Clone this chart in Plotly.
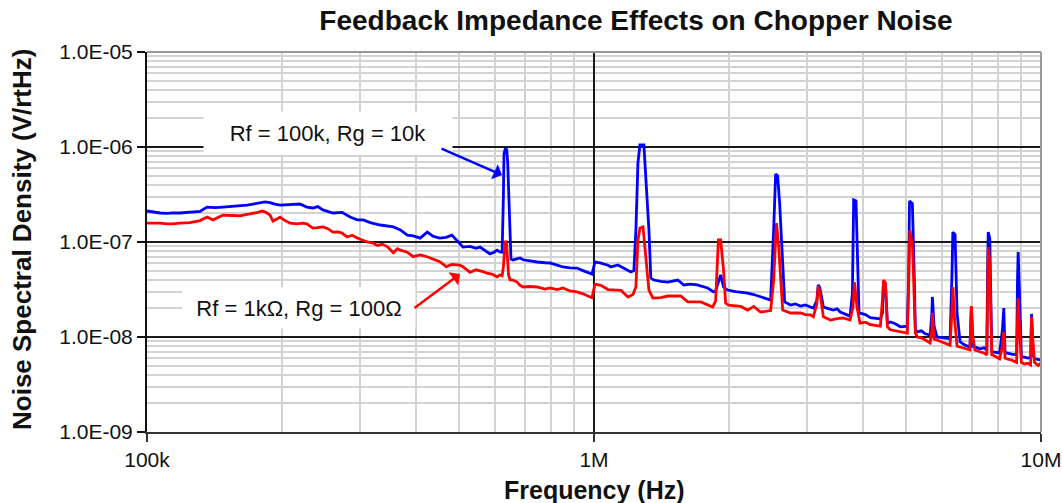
import plotly.graph_objects as go

# ---------------- data (frequency in kHz, noise in nV/rtHz) ----------------
blue_khz = [
    100, 104.2, 106.9, 110.9, 114.3, 118.5, 124.8, 131.4, 136.2, 142,
    147.9, 155, 161.5, 167.4, 172.7, 178, 183.7, 188.5, 193.3, 198.4,
    209, 219.8, 227.8, 234.9, 241.1, 247.4, 260.6, 273.1, 284.7, 295.3,
    304.6, 315.8, 332.7, 345, 355.8, 368.8, 382.3, 394.2, 408.5, 423.6,
    436.3, 451.6, 467, 481, 496, 509, 528, 544.5, 556, 570,
    585, 598, 607, 616,
    623, 627, 629, 633, 638, 641, 645, 649, 652,
    659, 673, 683, 694, 719, 746, 777, 797, 827, 852,
    884, 916, 945, 980, 990,
    1005, 1036, 1075, 1091, 1131, 1167, 1209, 1228,
    1241, 1254, 1267, 1293, 1306, 1327, 1340,
    1361, 1411, 1462, 1540, 1588, 1646, 1701, 1796, 1852, 1871,
    1898, 1920, 1949, 1991,
    2073, 2207, 2276, 2358, 2420, 2484,
    2523, 2549, 2575, 2602, 2643, 2670,
    2753, 2820, 2899, 2970, 3049, 3095, 3150,
    3175, 3200, 3260,
    3330, 3433, 3500, 3555, 3683, 3740, 3785,
    3810, 3856, 3876, 3916,
    4050, 4150, 4372, 4420,
    4445, 4487, 4533,
    4603, 4720, 4846, 5024, 5055,
    5080, 5155, 5208, 5235,
    5289, 5400, 5508, 5650, 5700,
    5715, 5766, 5855,
    6100, 6260, 6325,
    6350, 6423, 6490, 6590,
    6760, 6935, 6985, 7043, 7115, 7300, 7450, 7565, 7595,
    7620, 7680, 7760,
    7800, 8080, 8200,
    8255, 8310,
    8370, 8600, 8820, 8860,
    8890, 8950, 9040,
    9180, 9350, 9480, 9525, 9600, 9670, 9850, 10000,
]
blue_nv = [
    212, 205, 202, 200, 203, 202, 205, 210, 233, 230,
    233, 236, 238, 244, 251, 257, 264, 260, 250, 245,
    248, 251, 233, 228, 236, 218, 202, 205, 183, 171,
    171, 160, 151, 148, 144, 134, 118, 116, 110, 127,
    115, 110, 112, 118, 100, 88.5, 90, 86, 88.5, 82,
    75, 78, 82, 78.5,
    78, 300, 850, 950, 940, 700, 250, 90, 66,
    64.7, 66, 67.9, 65, 63, 61.6, 60.5, 60.1, 57, 54.6,
    53.5, 53.2, 50, 47.2, 46,
    61.6, 60, 57, 54.6, 57.3, 53, 48.3, 50,
    134, 679, 1050, 1050, 450, 134, 41.8,
    39.8, 38.5, 37.9, 39.8, 35.3, 36, 35.3, 32.8, 29.8, 30.5,
    38, 45, 33.6, 31.2,
    30, 29, 28, 26.4, 25.5, 24.5,
    134, 520, 500, 257, 60, 23.4,
    21.7, 22.3, 21.2, 21.8, 20.7, 20.2, 24,
    35.3, 33, 20.7,
    20, 19.2, 19.8, 18.3, 17.1, 16.5, 29,
    277, 270, 88.5, 17.9,
    17.2, 16, 15.5, 18,
    38, 36, 14,
    14.4, 13.8, 12.8, 13, 40,
    270, 255, 39.8, 11.9,
    11.3, 11.6, 10.8, 10.5, 18,
    26.4, 13, 10,
    9.75, 9.6, 50,
    127, 120, 17.9, 8.9,
    8.2, 7.85, 20, 8, 7.85, 7.5, 7.7, 7.3, 50,
    127, 110, 7.2,
    6.95, 6.8, 12,
    20.2, 7,
    6.8, 6.6, 6.47, 40,
    78.5, 30, 6.15,
    6.15, 6.0, 6.1, 17.5, 6.5, 5.9, 5.8, 5.7,
]

red_khz = [
    100, 106.9, 110.9, 114.3, 118.5, 124.8, 131.4, 136.2, 140.5, 147.9,
    155, 161.5, 167.4, 172.7, 177.1, 180.9, 184.6, 188.5, 191.3, 195.3,
    198.4, 203.6, 209, 216.4, 223.2, 227.8, 234.9, 241.1, 247.4, 253.9,
    260.6, 267.5, 273.1, 280.3, 287.7, 295.3, 303, 311, 319.2, 327.6,
    336.2, 345, 355.8, 363.2, 368.8, 382.3, 394.2, 408.5, 423.6, 436.3,
    451.6, 467, 481, 501, 509, 528, 544.5, 562, 576, 591,
    607, 616, 623,
    627, 630, 633, 637, 640, 644, 649, 659, 673,
    683, 694, 719, 746, 777, 797, 827, 852, 884, 916,
    945, 980, 990,
    1005, 1036, 1075, 1108, 1149, 1191, 1222,
    1241, 1254, 1267, 1287, 1306, 1327, 1354,
    1411, 1462, 1563, 1621, 1733, 1843, 1871,
    1898, 1920, 1949, 1970,
    2000, 2129, 2207, 2276, 2358, 2484,
    2523, 2560, 2590, 2643,
    2753, 2899, 2970, 3049, 3095, 3150,
    3175, 3200, 3260,
    3380, 3500, 3610, 3740, 3797,
    3825, 3876, 3936,
    4050, 4150, 4372, 4420,
    4445, 4487, 4533,
    4603, 4720, 4846, 5024, 5060,
    5090, 5160, 5235,
    5289, 5400, 5508, 5650, 5700,
    5715, 5766, 5855,
    6100, 6260, 6325,
    6350, 6410, 6490,
    6590, 6760, 6935, 6970,
    6985, 7040, 7115,
    7300, 7450, 7565, 7595,
    7620, 7680, 7760,
    7800, 8080, 8200,
    8255, 8310,
    8370, 8600, 8820, 8860,
    8890, 8950, 9040,
    9180, 9350, 9480, 9525, 9580, 9670, 9850, 10000,
]
red_nv = [
    158, 158, 155, 155, 158, 160, 168, 183, 171, 192,
    190, 188, 195, 200, 205, 212, 205, 192, 166, 175,
    183, 168, 158, 155, 158, 155, 140, 142, 144, 138,
    127, 128, 124, 113, 118, 110, 104, 100, 98, 92,
    95, 89, 77, 85, 82, 78, 70, 73, 70, 66,
    62, 55, 58, 57, 55, 48, 51, 49, 47, 46,
    43, 45, 44,
    55, 85, 100, 100, 70, 45, 40, 39.8, 37.9,
    35, 33.6, 34, 33.6, 32, 32.8, 31.5, 32.8, 30.5, 29.8,
    28.5, 26.4, 26,
    36.1, 35, 31.6, 31.2, 31, 26.4, 28,
    33.6, 105, 140, 144, 69.5, 31.2, 25.7,
    26, 27, 27, 23.4, 23.4, 20.7, 24,
    105, 105, 50.7, 22.8,
    21.7, 21, 19.2, 21, 18.3, 19,
    40, 158, 88.5, 19.2,
    17.9, 17.9, 17.2, 17.1, 16.3, 22,
    34.4, 30, 16.3,
    15.1, 15.6, 15.85, 15.1, 20.7,
    37.9, 20.7, 14,
    14.3, 13.5, 13, 25,
    39.8, 37, 12.8,
    11.9, 11.6, 11.3, 11, 40,
    134, 88, 11,
    10, 9.8, 9.3, 8.65, 12,
    17.9, 9.5, 9.3,
    8.6, 8.2, 20,
    33.6, 15, 8,
    7.85, 7.6, 7.3, 15,
    21.2, 10, 7.3,
    7, 6.8, 6.47, 30,
    88.5, 60, 6.5,
    6.47, 5.9, 8,
    11.3, 6,
    5.9, 5.7, 5.4, 15,
    25.7, 12, 5.4,
    5.2, 5.3, 5.1, 16.3, 10, 5.4, 5.0, 5.3,
]

x_tick_vals = [1e5, 1e6, 1e7]
x_tick_text = ["100k", "1M", "10M"]
y_tick_vals = [1e-9, 1e-8, 1e-7, 1e-6, 1e-5]
y_tick_text = ["1.0E-09", "1.0E-08", "1.0E-07", "1.0E-06", "1.0E-05"]

KHZ = 1e3
NV = 1e-9
FONT = "Arial, Liberation Sans, sans-serif"

fig = go.Figure()
fig.add_trace(go.Scatter(
    x=[f * KHZ for f in blue_khz], y=[v * NV for v in blue_nv],
    mode="lines", line=dict(color="#0000ff", width=2.8), name="Rf = 100k, Rg = 10k"))
fig.add_trace(go.Scatter(
    x=[f * KHZ for f in red_khz], y=[v * NV for v in red_nv],
    mode="lines", line=dict(color="#ff0000", width=2.8), name="Rf = 1kΩ, Rg = 100Ω"))

axis_common = dict(
    type="log", showgrid=True, gridcolor="#1a1a1a", gridwidth=1.5,
    minor=dict(dtick="D1", showgrid=True, gridcolor="#d3d3d3", gridwidth=2, ticks=""),
    showline=True, linewidth=2, ticks="outside", ticklen=8, tickwidth=1.5,
    zeroline=False, automargin=False,
    tickfont=dict(family=FONT, size=21, color="#111"),
)

fig.update_layout(
    width=1062, height=503, autosize=False,
    margin=dict(l=147, r=21, t=52, b=71),
    paper_bgcolor="white", plot_bgcolor="white",
    showlegend=False,
    font=dict(family=FONT, color="#111"),
    title=dict(text="<b>Feedback Impedance Effects on Chopper Noise</b>",
               x=636 / 1062, xanchor="center", xref="container",
               y=1 - 20 / 503, yanchor="middle",
               font=dict(family=FONT, size=28, color="#111")),
    xaxis=dict(axis_common, range=[5, 7], tickvals=x_tick_vals, ticktext=x_tick_text,
               linecolor="#333", tickcolor="#333"),
    yaxis=dict(axis_common, range=[-9, -5], tickvals=y_tick_vals, ticktext=y_tick_text,
               linecolor="#111", tickcolor="#111"),
)

# top / right frame
fig.add_shape(type="line", xref="paper", yref="paper", x0=0, x1=1, y0=1, y1=1,
              line=dict(color="#999", width=2))
fig.add_shape(type="line", xref="paper", yref="paper", x0=1, x1=1, y0=0, y1=1,
              line=dict(color="#999", width=2))

# axis titles
fig.add_annotation(text="<b>Frequency (Hz)</b>", xref="paper", yref="paper",
                   x=0.5, y=(432 - 490) / 380, xanchor="center", yanchor="middle",
                   showarrow=False, font=dict(family=FONT, size=25, color="#111"))
fig.add_annotation(text="<b>Noise Spectral Density (V/rtHz)</b>", xref="paper", yref="paper",
                   x=(22 - 147) / 894, y=(432 - 240) / 380, xanchor="center", yanchor="middle",
                   textangle=-90, showarrow=False, font=dict(family=FONT, size=26, color="#111"))

# labels with white boxes
fig.add_annotation(text="Rf = 100k, Rg = 10k", xref="paper", yref="paper",
                   x=(328 - 147) / 894, y=1 - (133 - 52) / 380, xanchor="center", yanchor="middle",
                   showarrow=False, bgcolor="white", width=240, height=34, borderpad=4,
                   font=dict(family=FONT, size=22, color="#111"))
fig.add_annotation(text="Rf = 1kΩ, Rg = 100Ω", xref="paper", yref="paper",
                   x=(299 - 147) / 894, y=1 - (308 - 52) / 380, xanchor="center", yanchor="middle",
                   showarrow=False, bgcolor="white", width=224, height=32, borderpad=4,
                   font=dict(family=FONT, size=22, color="#111"))

# arrows (positions in log10 data units)
fig.add_annotation(text="", x=5.7942, y=-6.2947, xref="x", yref="y",
                   showarrow=True, ax=-62, ay=-27, arrowcolor="#0000ff",
                   arrowwidth=2.5, arrowhead=1, arrowsize=1.1, standoff=0)
fig.add_annotation(text="", x=5.7002, y=-7.3368, xref="x", yref="y",
                   showarrow=True, ax=-47, ay=35, arrowcolor="#ff0000",
                   arrowwidth=2.5, arrowhead=1, arrowsize=1.1, standoff=0)

fig.write_html("out.html", config={"displayModeBar": False},
               post_script="document.body.style.margin='0';document.body.style.overflow='hidden';")
